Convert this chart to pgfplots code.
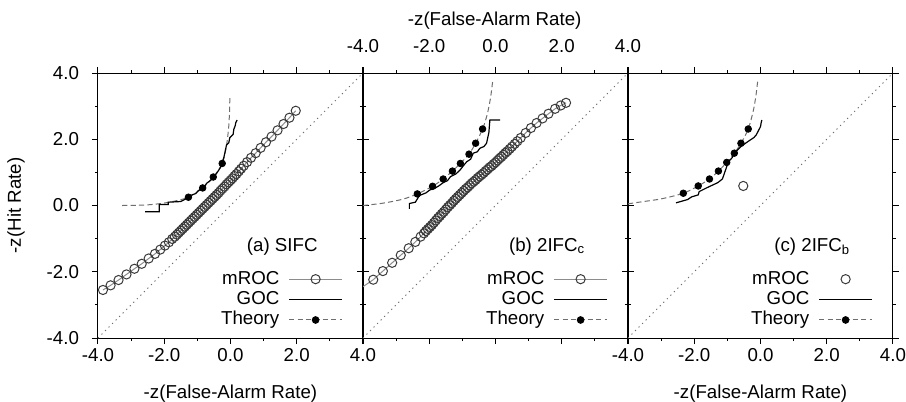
\documentclass[border=0pt]{standalone}
\usepackage{pgfplots}
\pgfplotsset{compat=1.18}
\usepackage{fontspec}
\setmainfont{Liberation Sans}
\definecolor{mroccol}{HTML}{3A3A3A}
\definecolor{mrocline}{HTML}{8C8C8C}
\definecolor{theorycol}{HTML}{6E6E6E}
\definecolor{diagcol}{HTML}{6E6E6E}
\newcommand{\ff}{\fontsize{9.35}{11}\selectfont}
\pgfplotsset{
  panel/.style={
    scale only axis, width=132.5pt, height=132.5pt,
    anchor=south west,
    xmin=-4, xmax=4, ymin=-4, ymax=4,
    xtick={-4,-2,0,2,4}, ytick={-4,-2,0,2,4},
    minor xtick={-3,-1,1,3}, minor ytick={-3,-1,1,3},
    tick align=outside, major tick length=3pt, minor tick length=1.6pt,
    every tick/.style={black, line width=0.5pt},
    axis line style={line width=0.5pt},
    xticklabels={-4.0,-2.0,0.0,2.0,4.0},
    yticklabels={},
    font=\ff,
    ticklabel style={font=\ff},
    legend plot pos=right,
    legend cell align=right,
    legend style={at={(rel axis cs:0.925,0.262)}, anchor=north east, draw=none, fill=none,
      inner sep=0pt, row sep=0pt, column sep=4pt, font=\ff,
      nodes={inner sep=0.6pt, text height=7pt, text depth=2pt}},
    legend image code/.code={\draw[mark repeat=2,mark phase=2,##1] plot coordinates {(0pt,0pt) (13.25pt,0pt) (26.5pt,0pt)};},
    xlabel={-z(False-Alarm Rate)},
  },
  marksonlylegend/.style={legend image code/.code={\draw[mark repeat=2,mark phase=2,##1] plot coordinates {(0pt,0pt) (13.25pt,0pt) (26.5pt,0pt)};}},
  diag/.style={diagcol, line width=0.5pt, dash pattern=on 0.6pt off 1.9pt, forget plot},
  theoryline/.style={theorycol, line width=0.5pt, dash pattern=on 2.6pt off 1.6pt, smooth, forget plot},
  goc/.style={black, line width=0.6pt, forget plot},
  mroc/.style={mrocline, line width=0.5pt, mark=o, mark size=2.3pt, mark options={mroccol, solid, line width=0.5pt}, forget plot},
  dots/.style={only marks, mark=*, mark size=1.65pt, black, forget plot},
}
\begin{document}
\begin{tikzpicture}
\path[use as bounding box] (-49pt,-32pt) rectangle (404pt,169pt);

% ---------------- panel (a)
\begin{axis}[panel, at={(0pt,0pt)},
  yticklabels={-4.0,-2.0,0.0,2.0,4.0},
  ylabel={-z(Hit Rate)},
  ylabel style={at={(axis description cs:-0.309,0.5)}, anchor=center},
  xlabel style={at={(axis description cs:0.5,-0.211)}, anchor=center},
  xticklabel style={yshift=1.5pt},
  yticklabel style={xshift=-3pt},
]
\addlegendimage{mrocline, line width=0.5pt, mark=o, mark size=2.3pt, mark options={mroccol, solid, fill=white, line width=0.5pt}}
\addlegendentry{mROC}
\addlegendimage{black, line width=0.6pt}
\addlegendentry{GOC}
\addlegendimage{theorycol, line width=0.5pt, dash pattern=on 2.6pt off 1.6pt, mark=*, mark size=1.65pt, mark options={solid, black}}
\addlegendentry{Theory}
\addplot[diag] coordinates {(-4,-4) (4,4)};
\addplot[theoryline] coordinates {(-3.27,0.0) (-2.9,0.005) (-2.5,0.02) (-2.1,0.06) (-1.7,0.13) (-1.27,0.25) (-0.84,0.53) (-0.52,0.86) (-0.25,1.27) (-0.13,1.75) (-0.06,2.3) (-0.03,2.8) (-0.02,3.27)};
\addplot[goc] coordinates {(-2.58,-0.19) (-2.15,-0.19) (-2.15,0.03) (-1.88,0.03) (-1.88,0.1) (-1.5,0.12) (-1.35,0.2) (-1.22,0.3) (-1.05,0.36) (-0.97,0.45) (-0.8,0.55) (-0.72,0.67) (-0.55,0.8) (-0.42,0.97) (-0.3,1.15) (-0.2,1.45) (-0.12,1.83) (-0.05,1.9) (-0.02,2.05) (0.08,2.15) (0.1,2.3) (0.14,2.4) (0.16,2.5) (0.2,2.58)};
\addplot[mroc] coordinates {(-3.85,-2.55) (-3.62,-2.41) (-3.38,-2.25) (-3.14,-2.08) (-2.9,-1.91) (-2.68,-1.76) (-2.47,-1.60) (-2.28,-1.46) (-2.12,-1.33) (-1.98,-1.21) (-1.86,-1.11) (-1.76,-1.01)
 (-1.68,-0.94) (-1.62,-0.88) (-1.56,-0.82) (-1.50,-0.76) (-1.44,-0.70) (-1.38,-0.64) (-1.32,-0.58) (-1.26,-0.52) (-1.20,-0.46) (-1.14,-0.40) (-1.08,-0.34) (-1.02,-0.28) (-0.96,-0.22) (-0.90,-0.16) (-0.84,-0.10) (-0.78,-0.04) (-0.72,0.02) (-0.66,0.08) (-0.60,0.14) (-0.54,0.20) (-0.48,0.26) (-0.42,0.32) (-0.36,0.38) (-0.30,0.45) (-0.24,0.51) (-0.18,0.57) (-0.12,0.64) (-0.06,0.70) (0.0,0.76) (0.06,0.82) (0.12,0.89) (0.18,0.95) (0.25,1.03) (0.32,1.11)
 (0.40,1.20) (0.50,1.31) (0.62,1.44) (0.76,1.58) (0.91,1.74) (1.07,1.91) (1.24,2.08) (1.42,2.27) (1.6,2.46) (1.78,2.65) (1.97,2.86)};
\addplot[dots] coordinates {(-1.27,0.25) (-0.84,0.53) (-0.52,0.86) (-0.25,1.27)};
\node[anchor=east, inner sep=0pt, font=\ff] at (axis cs:2.64,-1.24) {(a) SIFC};
\end{axis}

% ---------------- panel (b)
\begin{axis}[panel, at={(132.5pt,0pt)},
  xticklabel pos=upper,
  xlabel style={at={(axis description cs:0.497,1.197)}, anchor=center},
  xticklabel style={yshift=3.5pt},
]
\addlegendimage{mrocline, line width=0.5pt, mark=o, mark size=2.3pt, mark options={mroccol, solid, fill=white, line width=0.5pt}}
\addlegendentry{mROC}
\addlegendimage{black, line width=0.6pt}
\addlegendentry{GOC}
\addlegendimage{theorycol, line width=0.5pt, dash pattern=on 2.6pt off 1.6pt, mark=*, mark size=1.65pt, mark options={solid, black}}
\addlegendentry{Theory}
\addplot[diag] coordinates {(-4,-4) (4,4)};
\addplot[theoryline] coordinates {(-4,0.0) (-3.4,0.07) (-2.8,0.19) (-2.36,0.35) (-1.9,0.58) (-1.58,0.80) (-1.3,1.04) (-1.06,1.27) (-0.8,1.55) (-0.6,1.88) (-0.39,2.31) (-0.25,2.75) (-0.15,3.25) (-0.08,3.8)};
\addplot[goc] coordinates {(-2.6,-0.1) (-2.6,0.06) (-2.42,0.1) (-2.3,0.3) (-2.1,0.38) (-1.98,0.47) (-1.83,0.52) (-1.7,0.6) (-1.58,0.69) (-1.45,0.75) (-1.36,0.87) (-1.2,0.95) (-1.07,1.07) (-0.97,1.2) (-0.87,1.32) (-0.75,1.4) (-0.67,1.58) (-0.55,1.62) (-0.47,1.73) (-0.35,1.78) (-0.27,1.88) (-0.2,2.2) (-0.17,2.58) (0.14,2.58)};
\addplot[mrocline, line width=0.5pt, forget plot] coordinates {(-4.0,-2.45) (-3.69,-2.24)};
\addplot[mroc] coordinates {(-3.69,-2.24) (-3.4,-1.98) (-3.12,-1.73) (-2.86,-1.50) (-2.62,-1.29) (-2.42,-1.10) (-2.26,-0.94) (-2.16,-0.84)
 (-2.1,-0.77) (-2.04,-0.71) (-1.98,-0.65) (-1.92,-0.59) (-1.86,-0.52) (-1.80,-0.45) (-1.74,-0.38) (-1.68,-0.32) (-1.62,-0.25) (-1.56,-0.19) (-1.50,-0.12) (-1.44,-0.05) (-1.38,0.01) (-1.32,0.07) (-1.26,0.14) (-1.20,0.20) (-1.14,0.26) (-1.08,0.32) (-1.02,0.38) (-0.96,0.44) (-0.90,0.50) (-0.84,0.55) (-0.78,0.61) (-0.72,0.67) (-0.66,0.72) (-0.60,0.77) (-0.54,0.83) (-0.48,0.88) (-0.42,0.93) (-0.36,0.98) (-0.30,1.04) (-0.24,1.09) (-0.18,1.15) (-0.12,1.19) (-0.06,1.25) (0.0,1.30) (0.06,1.36) (0.12,1.42) (0.18,1.47) (0.24,1.53) (0.30,1.59) (0.36,1.64) (0.43,1.71) (0.50,1.78) (0.58,1.86) (0.66,1.94)
 (0.76,2.04) (0.91,2.19) (1.07,2.34) (1.24,2.49) (1.42,2.63) (1.6,2.77) (1.8,2.92) (1.97,3.02) (2.13,3.10)};
\addplot[dots] coordinates {(-2.36,0.35) (-1.9,0.58) (-1.58,0.80) (-1.3,1.04) (-1.06,1.27) (-0.8,1.55) (-0.6,1.88) (-0.39,2.31)};
\node[anchor=east, inner sep=0pt, font=\ff] at (axis cs:2.72,-1.24) {(b) 2IFC\textsubscript{c}};
\end{axis}

% ---------------- panel (c)
\begin{axis}[panel, at={(265pt,0pt)},
  xlabel style={at={(axis description cs:0.5,-0.211)}, anchor=center},
  xticklabel style={yshift=1.5pt},
]
\addlegendimage{only marks, marksonlylegend, mark=o, mark size=2.3pt, mark options={mroccol, line width=0.5pt}}
\addlegendentry{mROC}
\addlegendimage{black, line width=0.6pt}
\addlegendentry{GOC}
\addlegendimage{theorycol, line width=0.5pt, dash pattern=on 2.6pt off 1.6pt, mark=*, mark size=1.65pt, mark options={solid, black}}
\addlegendentry{Theory}
\addplot[diag] coordinates {(-4,-4) (4,4)};
\addplot[theoryline] coordinates {(-4,0.05) (-3.6,0.11) (-3.0,0.2) (-2.33,0.37) (-1.88,0.59) (-1.54,0.80) (-1.27,1.04) (-1.02,1.30) (-0.79,1.58) (-0.59,1.88) (-0.37,2.31) (-0.22,2.85) (-0.14,3.3) (-0.08,3.8)};
\addplot[goc] coordinates {(-2.55,0.08) (-2.2,0.18) (-2.08,0.26) (-1.88,0.32) (-1.85,0.42) (-1.59,0.55) (-1.29,0.69) (-1.15,0.8) (-1.09,0.97) (-0.97,1.32) (-0.85,1.45) (-0.79,1.58) (-0.59,1.78) (-0.38,1.93) (-0.2,2.05) (-0.13,2.13) (0.0,2.38) (0.02,2.5) (0.04,2.58)};
\addplot[only marks, mark=o, mark size=2.3pt, mark options={mroccol, line width=0.5pt}, forget plot] coordinates {(-0.52,0.59)};
\addplot[dots] coordinates {(-2.33,0.37) (-1.88,0.59) (-1.54,0.80) (-1.27,1.04) (-1.02,1.30) (-0.79,1.58) (-0.59,1.88) (-0.37,2.31)};
\node[anchor=east, inner sep=0pt, font=\ff] at (axis cs:2.72,-1.24) {(c) 2IFC\textsubscript{b}};
\end{axis}
\end{tikzpicture}
\end{document}
